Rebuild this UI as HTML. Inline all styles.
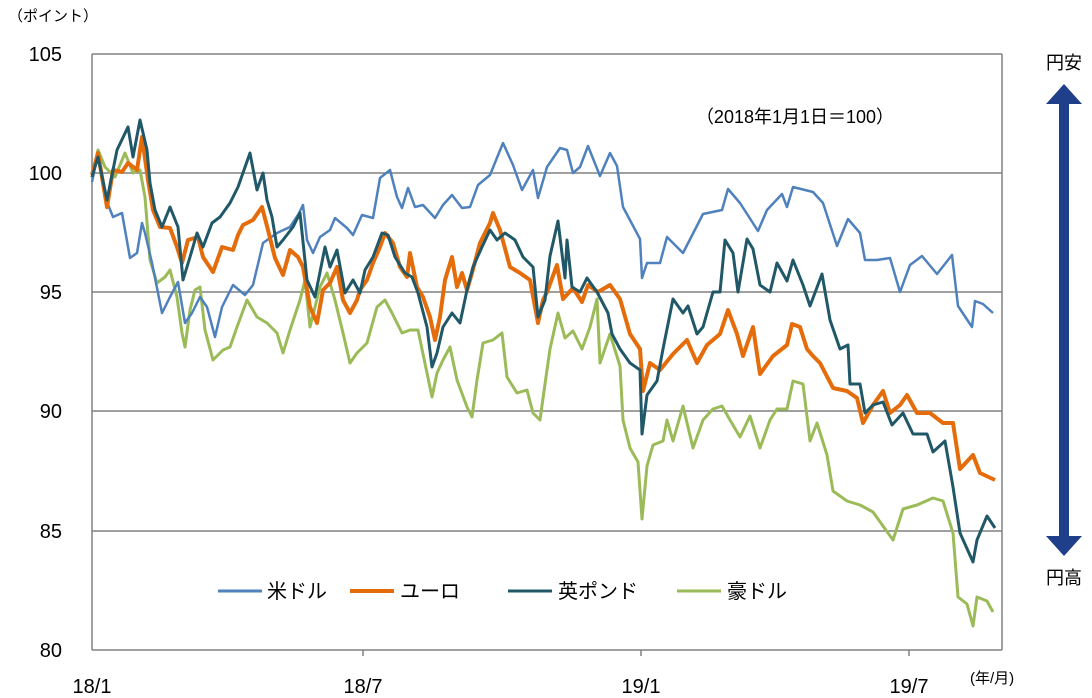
<!DOCTYPE html>
<html><head><meta charset="utf-8"><style>
html,body{margin:0;padding:0;background:#fff;}
svg{display:block;font-family:"Liberation Sans","Noto Sans CJK JP",sans-serif;}
</style></head><body>
<svg width="1092" height="698" viewBox="0 0 1092 698" xmlns="http://www.w3.org/2000/svg">
<rect width="1092" height="698" fill="#fff"/>
<g stroke="#808080" stroke-width="1.5" fill="none">
<line x1="92" y1="54" x2="1002" y2="54"/>
<line x1="92" y1="173" x2="1002" y2="173"/>
<line x1="92" y1="292" x2="1002" y2="292"/>
<line x1="92" y1="411" x2="1002" y2="411"/>
<line x1="92" y1="531" x2="1002" y2="531"/>
<line x1="1002" y1="54" x2="1002" y2="650"/>
<line x1="92" y1="54" x2="92" y2="650"/>
<line x1="92" y1="650" x2="1002" y2="650"/>
<line x1="363" y1="650" x2="363" y2="656"/>
<line x1="641" y1="650" x2="641" y2="656"/>
<line x1="909" y1="650" x2="909" y2="656"/>
</g>
<g font-size="20" fill="#000" text-anchor="end">
<text x="62" y="61">105</text><text x="62" y="180">100</text><text x="62" y="299">95</text>
<text x="62" y="418">90</text><text x="62" y="538">85</text><text x="62" y="657">80</text>
</g>
<g font-size="20" fill="#000" text-anchor="middle">
<text x="92" y="693">18/1</text><text x="363" y="693">18/7</text><text x="641" y="693">19/1</text><text x="909" y="693">19/7</text>
</g>
<text x="8" y="21" font-size="15">（ポイント）</text>
<text x="970" y="683" font-size="15">(年/月)</text>
<text x="795" y="123" font-size="18" text-anchor="middle">（2018年1月1日＝100）</text>
<g fill="none" stroke-linejoin="round">
<polyline stroke="#9bbb59" stroke-width="3" points="92,178 98,150 105,167 115,177 125,153 133,173 140,170 145,197 150,260 157,283 165,277 170,270 177,297 182,333 185,347 190,310 195,290 200,287 205,330 213,360 223,350 230,347 237,327 247,300 257,317 267,323 277,333 283,353 290,330 300,300 305,280 310,327 320,287 327,273 335,300 343,333 350,363 357,353 367,343 377,307 385,300 392,313 402,333 410,330 418,330 427,373 432,397 437,373 443,360 450,347 457,380 467,407 472,417 477,380 483,343 493,340 502,333 507,377 517,393 527,390 533,413 540,420 545,384 550,349 558,313 565,338 573,331 582,349 590,327 597,299 600,363 610,334 620,366 623,420 630,448 638,462 642,519 647,466 653,445 663,441 667,420 673,441 683,406 693,448 703,420 713,409 722,406 730,420 740,437 750,416 760,448 770,420 777,409 787,409 793,381 803,384 810,441 817,423 827,455 833,491 847,501 860,505 873,512 883,526 893,540 903,509 917,505 933,498 943,501 953,533 958,597 967,604 973,626 977,597 987,601 993,612"/>
<polyline stroke="#4f81bd" stroke-width="2.5" points="92,182 98,153 105,197 113,217 122,213 130,258 137,253 142,223 145,233 152,263 162,313 170,297 178,282 185,323 192,313 200,297 207,307 215,337 222,307 233,285 245,295 253,285 263,243 277,233 290,227 298,215 303,205 307,240 313,253 320,237 330,230 335,218 347,228 353,235 362,215 373,218 380,178 390,170 397,197 402,208 408,188 415,207 423,205 435,218 443,205 452,195 462,208 470,207 478,185 490,175 503,143 513,165 522,190 533,170 538,198 547,167 560,148 567,150 573,173 580,167 588,146 600,176 610,153 617,166 623,207 640,239 642,278 647,263 660,263 667,237 683,253 703,214 722,210 728,189 740,203 758,231 767,210 782,194 787,207 793,187 813,192 823,203 837,246 848,219 860,233 865,260 877,260 890,258 900,292 910,265 922,256 937,274 952,255 958,306 972,327 975,301 983,304 993,313"/>
<polyline stroke="#e46c0a" stroke-width="4" points="92,175 98,153 107,207 113,170 122,172 128,163 137,170 142,137 148,180 153,210 160,227 170,228 177,247 182,263 188,240 198,237 203,257 213,272 222,247 233,250 238,235 243,225 253,220 262,207 268,230 275,258 283,275 290,250 298,257 303,267 310,307 317,323 323,290 330,283 337,267 343,300 350,313 357,300 360,290 367,280 373,263 380,247 385,233 393,243 400,267 407,277 410,253 417,287 423,297 430,317 435,340 440,317 445,280 452,257 457,287 462,273 467,290 472,273 480,243 490,223 493,213 500,230 510,267 520,273 530,280 538,323 543,300 547,292 557,265 563,299 573,288 582,302 588,285 598,292 610,285 620,299 630,334 640,349 643,391 650,363 660,370 673,354 687,340 697,363 707,345 720,334 728,310 737,334 743,356 753,327 760,374 773,356 787,345 792,324 800,327 807,349 813,356 820,363 833,388 847,391 857,398 863,423 873,405 883,391 890,413 900,405 907,395 917,413 930,413 943,423 953,423 960,469 973,455 980,473 995,480"/>
<polyline stroke="#215868" stroke-width="3" points="92,177 98,157 107,200 117,150 128,127 133,157 140,120 147,150 150,183 155,210 162,227 170,207 178,227 183,280 190,257 197,233 203,247 212,223 220,217 230,203 238,187 250,153 257,190 263,173 267,200 272,217 277,247 283,240 293,227 300,213 307,280 315,297 325,247 330,267 337,250 345,293 353,280 360,293 365,270 373,257 382,233 388,235 395,257 405,273 412,277 418,293 427,327 432,367 437,353 443,327 452,313 460,323 467,290 473,267 482,247 490,230 497,240 505,233 515,240 523,257 533,267 538,317 545,300 550,256 558,221 565,278 567,240 572,287 580,292 587,278 597,292 608,313 612,334 620,349 630,363 640,370 642,434 647,395 657,381 663,349 673,299 683,313 688,306 697,334 703,327 713,292 720,292 725,240 733,253 738,292 747,239 753,249 760,285 770,292 777,263 787,281 793,260 803,285 810,306 822,274 830,320 840,349 848,345 850,384 860,384 865,413 873,405 883,402 892,425 903,413 913,434 927,434 933,452 945,441 953,487 960,533 973,562 977,540 987,516 995,528"/>
</g>
<g font-size="20" fill="#000">
<line x1="218" y1="591" x2="262" y2="591" stroke="#4f81bd" stroke-width="3"/>
<text x="267" y="598">米ドル</text>
<line x1="350" y1="591" x2="394" y2="591" stroke="#e46c0a" stroke-width="4"/>
<text x="400" y="598">ユーロ</text>
<line x1="508" y1="591" x2="552" y2="591" stroke="#215868" stroke-width="3"/>
<text x="558" y="598">英ポンド</text>
<line x1="677" y1="591" x2="721" y2="591" stroke="#9bbb59" stroke-width="3"/>
<text x="727" y="598">豪ドル</text>
</g>
<text x="1064" y="69" font-size="18" text-anchor="middle">円安</text>
<text x="1064" y="584" font-size="18" text-anchor="middle">円高</text>
<polygon fill="#1f3f8a" points="1064,84 1082,104 1069,104 1069,536 1082,536 1064,556 1046,536 1059,536 1059,104 1046,104"/>
</svg>
</body></html>
